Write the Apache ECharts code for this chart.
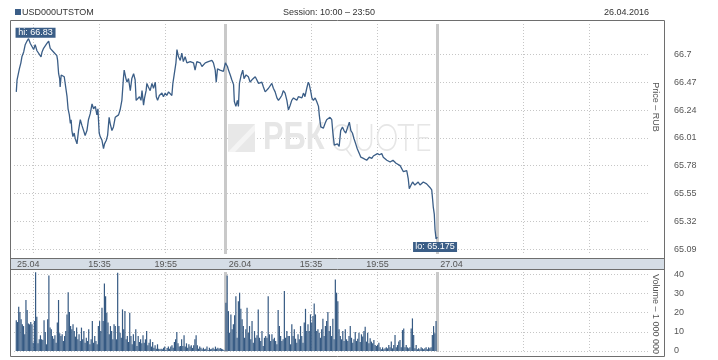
<!DOCTYPE html>
<html><head><meta charset="utf-8">
<script src="https://cdn.jsdelivr.net/npm/echarts@6/dist/echarts.min.js"></script>
<style>html,body{margin:0;padding:0;background:#fff}#c{width:718px;height:360px}</style>
</head><body><div id="c"></div>
<script>
// ---------- data ----------
const ticker = 'USD000UTSTOM';
const sessionText = 'Session: 10:00 – 23:50';
const dateText = '26.04.2016';
const sessionMinutes = 830;               // 10:00 – 23:50
const dayLabels = ['25.04', '26.04', '27.04'];
const timeTickLabels = ['15:35', '19:55'];
const firstDayExtraGrid = '11:15';
const priceTicks = [65.09, 65.32, 65.55, 65.78, 66.01, 66.24, 66.47, 66.7];
const volumeTicks = [0, 10, 20, 30, 40];
const priceAxisName = 'Price – RUB';
const volumeAxisName = 'Volume – 1 000 000';
const hiValue = 66.83;
const loValue = 65.175;

// minutes after 10:00, 25.04
const day1Minutes = [9,12,21,27,31,38,44,51,57,64,71,77,83,90,96,106,110,116,123,129,136,142,149,155,162,168,171,175,179,181,185,192,197,201,208,212,217,221,224,227,231,236,240,247,253,260,266,273,279,286,292,299,306,312,319,325,329,334,338,345,351,355,362,367,373,377,384,390,397,404,410,416,423,429,432,439,443,449,456,462,469,475,479,484,492,498,502,508,512,518,521,527,534,541,547,554,558,563,570,580,586,593,599,606,612,619,623,628,635,639,645,652,658,664,671,678,691,704,710,717,730,737,750,762,776,782,789,793,798,808,821,829];
const day1Prices = [66.39,66.49,66.58,66.63,66.68,66.72,66.78,66.81,66.83,66.79,66.80,66.74,66.78,66.73,66.72,66.68,66.72,66.75,66.76,66.79,66.81,66.75,66.74,66.72,66.71,66.69,66.65,66.54,66.50,66.43,66.53,66.54,66.515,66.50,66.35,66.25,66.20,66.13,66.16,66.07,66.02,66.05,66.005,65.96,66.07,66.16,66.115,66.07,66.03,66.07,66.16,66.21,66.29,66.25,66.27,66.20,66.25,66.05,66.02,65.99,65.92,65.96,65.99,66.03,66.18,66.13,66.07,66.10,66.18,66.17,66.20,66.24,66.32,66.50,66.57,66.50,66.47,66.50,66.40,66.50,66.54,66.49,66.32,66.31,66.35,66.32,66.40,66.28,66.34,66.40,66.46,66.43,66.40,66.46,66.42,66.47,66.35,66.32,66.36,66.38,66.35,66.38,66.36,66.39,66.40,66.36,66.46,66.53,66.63,66.74,66.68,66.65,66.71,66.64,66.68,66.63,66.64,66.63,66.57,66.64,66.63,66.60,66.63,66.64,66.65,66.63,66.57,66.47,66.58,66.57,66.56,66.63];
// minutes after 10:00, 26.04
const day2Minutes = [2,7,11,18,24,31,34,40,46,50,54,61,67,72,80,89,96,103,109,116,122,129,135,142,148,155,161,168,174,181,187,194,201,207,214,220,226,233,240,246,253,259,266,272,279,285,292,299,305,311,318,324,328,334,338,344,351,357,364,367,373,377,383,390,396,403,409,416,420,426,432,438,445,451,458,464,471,477,485,491,497,503,510,516,524,530,540,553,563,573,579,586,595,603,612,618,632,645,656,668,684,690,697,710,716,720,727,733,742,749,755,762,769,775,782,788,795,801,808,812,814,818,821,825,830];
const day2Prices = [66.64,66.60,66.57,66.53,66.49,66.45,66.31,66.27,66.32,66.27,66.46,66.53,66.57,66.50,66.53,66.515,66.47,66.49,66.50,66.515,66.50,66.46,66.45,66.47,66.43,66.39,66.40,66.42,66.43,66.46,66.42,66.39,66.34,66.32,66.34,66.36,66.40,66.38,66.32,66.24,66.28,66.32,66.34,66.35,66.32,66.35,66.36,66.34,66.38,66.35,66.42,66.47,66.45,66.39,66.34,66.32,66.34,66.31,66.27,66.20,66.10,66.10,66.09,66.13,66.16,66.17,66.18,66.16,66.06,65.95,65.94,65.96,65.94,66.07,66.10,66.07,66.05,66.06,66.14,66.07,66.05,66.005,65.96,65.92,65.88,65.85,65.84,65.825,65.85,65.84,65.86,65.87,65.88,65.87,65.88,65.85,65.825,65.81,65.825,65.80,65.78,65.77,65.73,65.74,65.67,65.59,65.62,65.645,65.62,65.63,65.645,65.62,65.63,65.645,65.645,65.63,65.62,65.60,65.58,65.49,65.44,65.38,65.25,65.175,65.19];

// 5-minute volume bars (millions), in order through each session
const day1VolumeSpan = [9, 823];
const day1Volume = [16.0,15.1,23.1,20.3,16.5,13.9,13.0,8.7,26.6,21.4,14.4,13.9,15.1,13.9,4.3,15.6,41.1,17.9,4.0,6.1,8.2,6.1,5.7,16.0,9.9,3.5,16.5,39.4,12.2,11.3,7.8,6.4,8.2,4.3,14.8,26.6,9.2,7.8,8.7,5.2,7.8,10.4,19.1,30.7,20.3,13.0,11.3,13.9,10.4,7.5,12.2,6.1,8.7,5.2,12.2,6.1,10.4,4.3,6.9,5.2,11.3,3.5,6.1,15.6,4.3,7.8,5.2,3.5,13.0,15.6,10.4,22.6,15.6,35.2,28.6,20.0,14.8,8.7,13.0,10.4,6.1,13.9,13.0,6.1,40.8,13.0,9.5,6.9,21.7,11.3,20.8,6.1,7.8,4.7,20.0,7.8,3.5,8.7,5.2,11.3,2.6,7.8,4.7,6.1,4.0,8.2,4.3,6.1,10.4,3.0,4.3,6.1,2.3,4.7,1.7,3.0,1.2,3.5,1.2,0.9,1.2,0.9,1.7,2.3,0.5,1.6,2.3,1.2,2.3,3.0,1.7,4.7,6.1,9.9,4.0,2.3,2.6,6.1,2.6,8.2,2.3,4.0,1.7,3.5,2.3,3.0,1.6,3.0,6.1,8.2,3.0,1.2,2.3,1.7,0.9,1.7,0.9,1.2,2.3,0.5,1.7,0.9,1.2,1.7,0.9,2.3,1.2,1.7,1.2,1.6,1.2,0.9,0.5];
const day2VolumeSpan = [831, 1655];
const day2Volume = [25.2,39.4,20.8,9.5,19.1,11.3,13.9,18.6,28.6,6.9,26.0,30.4,22.0,16.5,13.0,6.9,11.3,22.6,9.5,13.0,6.1,15.6,4.3,10.4,6.9,8.2,21.7,6.9,5.2,10.4,2.6,6.9,7.8,6.9,28.6,8.7,5.2,8.7,6.1,6.9,5.2,3.5,21.4,13.0,7.8,5.2,6.1,31.3,6.9,10.4,7.8,7.8,3.5,13.9,7.8,11.3,6.4,4.3,8.7,6.1,13.0,7.8,4.3,14.8,22.0,10.4,13.9,10.4,19.1,14.8,18.2,24.8,19.1,10.4,11.3,9.5,6.9,11.3,16.8,7.8,13.0,15.6,20.3,10.4,13.0,7.8,16.8,6.1,37.3,30.4,26.0,11.3,7.8,6.1,10.4,5.2,11.3,6.1,5.2,7.8,13.0,6.9,4.3,6.1,9.9,5.2,6.4,9.5,4.7,8.7,7.5,10.4,12.7,4.9,9.5,4.0,6.6,4.9,4.0,5.7,3.1,2.6,3.1,4.3,1.9,0.9,1.9,0.9,1.4,1.9,1.4,3.1,1.9,4.9,1.4,3.1,8.3,1.9,3.1,4.9,5.7,1.9,10.9,11.8,1.9,3.1,1.9,1.4,1.9,11.8,17.0,8.3,1.4,3.1,0.9,1.4,0.9,1.9,1.4,0.9,1.4,1.9,0.9,1.9,1.4,1.9,8.3,13.0,9.2,15.6];

// ---------- build ----------
const BLUE = '#3b5e87';
const FONT = '"Liberation Sans", Arial, sans-serif';
const toMin = s => { const p = s.split(':').map(Number); return p[0] * 60 + p[1] - 600; };

const priceData = day1Minutes.map((t, i) => [t, day1Prices[i]])
  .concat(day2Minutes.map((t, i) => [sessionMinutes + t, day2Prices[i]]));
const spread = (vals, span) => vals.map((v, i) => [span[0] + i * (span[1] - span[0]) / (vals.length - 1), v]);
const volumeData = spread(day1Volume, day1VolumeSpan).concat(spread(day2Volume, day2VolumeSpan));

const labelMap = {};
const timeLabelValues = [];
[0, 1].forEach(d => timeTickLabels.forEach(s => { const v = d * sessionMinutes + toMin(s); timeLabelValues.push(v); labelMap[v] = s; }));
const gridValues = [toMin(firstDayExtraGrid)];
[0, 1, 2].forEach(d => timeTickLabels.forEach(s => gridValues.push(d * sessionMinutes + toMin(s))));
gridValues.sort((a, b) => a - b);
const dayStartValues = dayLabels.map((_, i) => i * sessionMinutes);
dayStartValues.forEach((v, i) => { labelMap['d' + v] = dayLabels[i]; });
const separators = [sessionMinutes, 2 * sessionMinutes].map(v => ({ xAxis: v }));
const loIndex = day2Prices.indexOf(loValue);
const hiIndex = day1Prices.indexOf(hiValue);

const dotted = { show: true, lineStyle: { color: '#c6c6c6', type: [1, 2], width: 1 } };
const sepLine = {
  silent: true, symbol: ['none', 'none'], label: { show: false }, z: 1,
  lineStyle: { color: '#c9c9c9', width: 3, type: 'solid' }, emphasis: { disabled: true },
  data: separators
};
const axisText = { fontFamily: FONT, fontSize: 9, color: '#555' };

const chart = echarts.init(document.getElementById('c'), null, { renderer: 'canvas' });
chart.setOption({
  animation: false,
  backgroundColor: '#fff',
  grid: [
    { left: 14, top: 24, width: 635, height: 230 },
    { left: 14, top: 272, width: 635, height: 80 }
  ],
  xAxis: [
    { type: 'value', gridIndex: 0, min: 0, max: 3 * sessionMinutes, position: 'bottom',
      axisLine: { show: false }, axisTick: { show: false, customValues: gridValues },
      splitLine: dotted,
      axisLabel: Object.assign({ customValues: timeLabelValues, margin: 11, verticalAlign: 'middle',
        formatter: v => labelMap[v] || '' }, axisText) },
    { type: 'value', gridIndex: 1, min: 0, max: 3 * sessionMinutes, position: 'top',
      axisLine: { show: false }, axisTick: { show: false, customValues: gridValues },
      splitLine: dotted,
      axisLabel: Object.assign({ customValues: dayStartValues, margin: 7, verticalAlign: 'middle', align: 'left',
        padding: [0, 0, 0, 3], formatter: v => labelMap['d' + v] || '' }, axisText) }
  ],
  yAxis: [
    { type: 'value', gridIndex: 0, position: 'right', min: 65.05, max: 66.951,
      axisLine: { show: false }, axisTick: { show: false, customValues: priceTicks },
      splitLine: dotted,
      axisLabel: Object.assign({ customValues: priceTicks, margin: 25, align: 'left' }, axisText) },
    { type: 'value', gridIndex: 1, position: 'right', min: -0.52, max: 41.2,
      axisLine: { show: false }, axisTick: { show: false, customValues: volumeTicks },
      splitLine: dotted,
      axisLabel: Object.assign({ customValues: volumeTicks, margin: 25, align: 'left' }, axisText) }
  ],
  series: [
    { type: 'line', xAxisIndex: 0, yAxisIndex: 0, data: priceData, showSymbol: false, z: 3,
      lineStyle: { color: BLUE, width: 1.3 }, itemStyle: { color: BLUE },
      markLine: sepLine,
      markPoint: {
        symbol: 'rect', silent: true, z: 6,
        itemStyle: { color: BLUE },
        label: { show: true, position: 'inside', color: '#fff', fontFamily: FONT, fontSize: 9,
          formatter: p => p.name + ': ' + p.value },
        data: [
          { name: 'hi', value: hiValue, coord: [day1Minutes[hiIndex], hiValue], symbolSize: [40, 10], symbolOffset: [7, -6] },
          { name: 'lo', value: loValue, coord: [sessionMinutes + day2Minutes[loIndex], loValue], symbolSize: [44, 10], symbolOffset: [-1, 8] }
        ]
      } },
    { type: 'bar', xAxisIndex: 1, yAxisIndex: 1, data: volumeData, barWidth: 1.2, z: 3,
      itemStyle: { color: '#365a83' }, markLine: sepLine }
  ],
  graphic: [
    // frame and x-axis band
    { type: 'rect', z: -1, silent: true, shape: { x: 11, y: 259, width: 653, height: 10 }, style: { fill: '#d5dde6' } },
    { type: 'rect', z: 10, silent: true, shape: { x: 10.5, y: 20.5, width: 654, height: 336 }, style: { fill: null, stroke: '#6e6e6e', lineWidth: 1 } },
    { type: 'line', z: 10, silent: true, shape: { x1: 11, y1: 258.5, x2: 664, y2: 258.5 }, style: { stroke: '#6e6e6e', lineWidth: 1 } },
    { type: 'line', z: 10, silent: true, shape: { x1: 11, y1: 269.5, x2: 664, y2: 269.5 }, style: { stroke: '#6e6e6e', lineWidth: 1 } },
    // header
    { type: 'rect', silent: true, shape: { x: 15, y: 9, width: 6, height: 6 }, style: { fill: BLUE } },
    { type: 'text', silent: true, x: 22, y: 12.5, style: { text: ticker, font: '9px ' + FONT, fill: '#333', verticalAlign: 'middle' } },
    { type: 'text', silent: true, x: 283, y: 12.5, style: { text: sessionText, font: '9px ' + FONT, fill: '#333', verticalAlign: 'middle' } },
    { type: 'text', silent: true, x: 604, y: 12.5, style: { text: dateText, font: '9px ' + FONT, fill: '#333', verticalAlign: 'middle' } },
    // axis names
    { type: 'text', silent: true, x: 655.5, y: 107, rotation: -Math.PI / 2,
      style: { text: priceAxisName, font: '9px ' + FONT, fill: '#555', align: 'center', verticalAlign: 'middle' } },
    { type: 'text', silent: true, x: 655.5, y: 314, rotation: -Math.PI / 2,
      style: { text: volumeAxisName, font: '9px ' + FONT, fill: '#555', align: 'center', verticalAlign: 'middle' } },
    // watermark
    { type: 'rect', z: 1, silent: true, shape: { x: 228, y: 124, width: 27, height: 28 }, style: { fill: '#e8e8e8' } },
    { type: 'polygon', z: 1, silent: true, shape: { points: [[228, 152], [255, 124], [255, 131], [235, 152]] }, style: { fill: '#f4f4f4' } },
    { type: 'text', z: 1, silent: true, x: 263, y: 138.5, scaleX: 0.81,
      style: { text: 'РБК', font: 'bold 38px ' + FONT, fill: '#e6e6e6', verticalAlign: 'middle' } },
    { type: 'text', z: 1, silent: true, x: 330, y: 138.5, scaleX: 0.78,
      style: { text: 'QUOTE', font: '300 38px Lato, Roboto, ' + FONT, fill: '#e6e6e6', verticalAlign: 'middle' } }
  ]
});
</script>
</body></html>
